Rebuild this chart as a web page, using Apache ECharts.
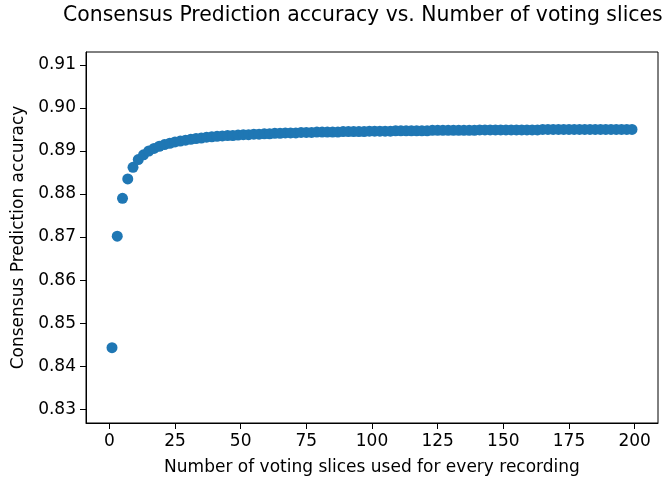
<!DOCTYPE html>
<html>
<head>
<meta charset="utf-8">
<script src="https://cdn.jsdelivr.net/npm/echarts@6/dist/echarts.min.js"></script>
<style>html,body{margin:0;padding:0;background:#fff;}#c{width:665px;height:481px;}</style>
</head>
<body>
<div id="c"></div>
<script>
// Number of voting slices (x) and consensus accuracy (y)
var slices = [1,3,5,7,9,11,13,15,17,19,21,23,25,27,29,31,33,35,37,39,
  41,43,45,47,49,51,53,55,57,59,61,63,65,67,69,71,73,75,77,79,
  81,83,85,87,89,91,93,95,97,99,101,103,105,107,109,111,113,115,117,119,
  121,123,125,127,129,131,133,135,137,139,141,143,145,147,149,151,153,155,157,159,
  161,163,165,167,169,171,173,175,177,179,181,183,185,187,189,191,193,195,197,199];
var accuracy = [0.8443,0.8702,0.8790,0.8835,0.8862,0.8880,0.8891,0.8900,0.8906,0.8911,
  0.8915,0.8918,0.8921,0.8923,0.8925,0.8927,0.8929,0.8930,0.8932,0.8933,
  0.8934,0.8935,0.8936,0.8936,0.8937,0.8938,0.8938,0.8939,0.8939,0.8940,
  0.8940,0.8941,0.8941,0.8942,0.8942,0.8942,0.8943,0.8943,0.8943,0.8944,
  0.8944,0.8944,0.8944,0.8944,0.8945,0.8945,0.8945,0.8945,0.8945,0.8946,
  0.8946,0.8946,0.8946,0.8946,0.8947,0.8947,0.8947,0.8947,0.8947,0.8947,
  0.8947,0.8948,0.8948,0.8948,0.8948,0.8948,0.8948,0.8948,0.8948,0.8948,
  0.8949,0.8949,0.8949,0.8949,0.8949,0.8949,0.8949,0.8949,0.8949,0.8949,
  0.8949,0.8949,0.8950,0.8950,0.8950,0.8950,0.8950,0.8950,0.8950,0.8950,
  0.8950,0.8950,0.8950,0.8950,0.8950,0.8950,0.8950,0.8950,0.8950,0.8950];
var xTicks = [0,25,50,75,100,125,150,175,200];
var yTicks = [0.83,0.84,0.85,0.86,0.87,0.88,0.89,0.90,0.91];

var points = slices.map(function(s, i){ return [s, accuracy[i]]; });
var font = 'DejaVu Sans';
var chart = echarts.init(document.getElementById('c'), null, {renderer:'canvas'});
chart.setOption({
  animation: false,
  backgroundColor: '#fff',
  title: {
    text: 'Consensus Prediction accuracy vs. Number of voting slices',
    left: 58, top: 1,
    textStyle: {fontFamily: font, fontSize: 20.4, fontWeight: 'normal', color: '#000'}
  },
  grid: {left: 86, right: 7, top: 52, bottom: 58, show: true, borderColor: '#000', borderWidth: 1, backgroundColor: 'transparent'},
  xAxis: {
    type: 'value', min: -8.9, max: 208.9,
    name: 'Number of voting slices used for every recording',
    nameLocation: 'middle', nameGap: 36,
    nameTextStyle: {fontFamily: font, fontSize: 17, color: '#000'},
    axisLine: {show: true, onZero: false, lineStyle: {color: '#000', width: 1}},
    axisTick: {show: true, inside: false, length: 6, lineStyle: {color: '#000', width: 1}, customValues: xTicks},
    axisLabel: {fontFamily: font, fontSize: 17, color: '#000', margin: 10, customValues: xTicks},
    splitLine: {show: false}
  },
  yAxis: {
    type: 'value', min: 0.8268, max: 0.9130,
    name: 'Consensus Prediction accuracy',
    nameLocation: 'middle', nameGap: 55, nameRotate: 90,
    nameTextStyle: {fontFamily: font, fontSize: 17, color: '#000'},
    axisLine: {show: true, onZero: false, lineStyle: {color: '#000', width: 1}},
    axisTick: {show: true, inside: false, length: 6, lineStyle: {color: '#000', width: 1}, customValues: yTicks},
    axisLabel: {fontFamily: font, fontSize: 17, color: '#000', margin: 10, customValues: yTicks,
      formatter: function(v){ return v.toFixed(2); }},
    splitLine: {show: false}
  },
  series: [{
    type: 'scatter',
    data: points,
    symbol: 'circle',
    symbolSize: 11,
    itemStyle: {color: '#1f77b4', opacity: 1}
  }]
});
</script>
</body>
</html>
